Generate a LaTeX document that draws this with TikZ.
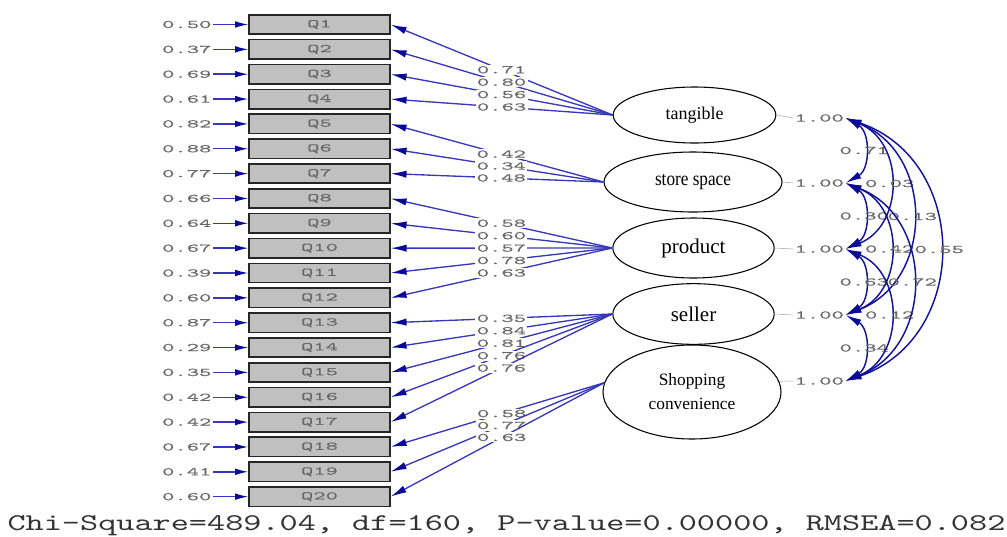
\documentclass[tikz,border=0pt]{standalone}
\usepackage{fontspec}
\setmainfont{Liberation Serif}
\newfontfamily\lisfont{lmmono10-regular.otf}[FakeStretch=2.0,FakeBold=0.4]
\newfontfamily\fitfont{lmmono10-regular.otf}[FakeStretch=1.44]
\newfontfamily\narrowserif{Liberation Serif}[FakeStretch=0.86]
\usetikzlibrary{shapes,arrows.meta}
\definecolor{pathblue}{RGB}{55,55,185}
\definecolor{tipblue}{RGB}{10,10,150}
\definecolor{numgray}{RGB}{105,105,105}
\definecolor{boxgray}{RGB}{192,192,192}
\newcommand\lisnum{\lisfont\fontsize{8.8}{10}\selectfont}

\begin{document}
\begin{tikzpicture}[x=0.75pt,y=-0.75pt]
    \tikzstyle{qbox}=[rectangle, draw=black!85, line width=1.2pt, fill=boxgray, minimum width=105.4pt, minimum height=14.5pt, inner sep=0pt, font=\lisnum, text=numgray]
    \tikzstyle{num}=[inner sep=1pt, font=\lisnum, text=numgray]
    \tikzstyle{factor}=[ellipse, draw, line width=0.8pt, inner sep=0pt, align=center]
    \tikzstyle{err}=[pathblue, line width=1.1pt, -{Latex[length=10pt,width=5pt,color=tipblue]}]
    \tikzstyle{load}=[pathblue, line width=1pt, -{Latex[length=12pt,width=5.5pt,color=tipblue]}]
    \tikzstyle{corr}=[tipblue!80!pathblue, line width=1.1pt, {Latex[length=12pt,width=5.5pt,color=tipblue]}-{Latex[length=12pt,width=5.5pt,color=tipblue]}]
    \useasboundingbox (0,0) rectangle (1007,536);

    \foreach \i/\e in {1/0.50,2/0.37,3/0.69,4/0.61,5/0.82,6/0.88,7/0.77,8/0.66,9/0.64,10/0.67,
                       11/0.39,12/0.60,13/0.87,14/0.29,15/0.35,16/0.42,17/0.42,18/0.67,19/0.41,20/0.60} {
        \node[qbox] (q\i) at (319.5,{24.5+(\i-1)*24.85}) {Q\i};
        \node[num, anchor=east] (e\i) at (213,{24.5+(\i-1)*24.85}) {\e};
        \draw[err] (e\i.east) -- (q\i.west);
    }

    \node[factor, minimum width=122pt, minimum height=42pt, font=\fontsize{13.5}{15}\selectfont] (tang) at (694.5,115) {tangible};
    \node[factor, minimum width=133.5pt, minimum height=45pt, font=\narrowserif\fontsize{15}{16}\selectfont] (store) at (693,182) {store space};
    \node[factor, minimum width=121pt, minimum height=45pt, font=\fontsize{15.75}{17}\selectfont] (prod) at (693.5,248) {product};
    \node[factor, minimum width=121pt, minimum height=45.5pt, font=\fontsize{15.75}{17}\selectfont] (sell) at (693.5,314) {seller};
    \node[factor, minimum width=133.5pt, minimum height=70.5pt, font=\fontsize{13}{18}\selectfont] (shop) at (692,392) {Shopping\\convenience};

    \foreach \q/\v in {1/0.71,2/0.80,3/0.56,4/0.63}
        \draw[load] (tang.west) -- node[num, fill=white, pos=.5] {\v} (q\q.east);
    \foreach \q/\v in {5/0.42,6/0.34,7/0.48}
        \draw[load] (store.west) -- node[num, fill=white, pos=.48] {\v} (q\q.east);
    \foreach \q/\v in {8/0.58,9/0.60,10/0.57,11/0.78,12/0.63}
        \draw[load] (prod.west) -- node[num, fill=white, pos=.5] {\v} (q\q.east);
    \foreach \q/\v in {13/0.35,14/0.84,15/0.81,16/0.76,17/0.76}
        \draw[load] (sell.west) -- node[num, fill=white, pos=.5] {\v} (q\q.east);
    \foreach \q/\v in {18/0.58,19/0.77,20/0.63}
        \draw[load] (shop.174) -- node[num, fill=white, pos=.48] {\v} (q\q.east);

    \node[num, anchor=west] (v1) at (793,118) {1.00};
    \node[num, anchor=west] (v2) at (793,183) {1.00};
    \node[num, anchor=west] (v3) at (793,249) {1.00};
    \node[num, anchor=west] (v4) at (793,315) {1.00};
    \node[num, anchor=west] (v5) at (793,381) {1.00};
    \draw[numgray!60] (tang.east) -- (v1.west);
    \draw[numgray!60] (store.east) -- (v2.west);
    \draw[numgray!60] (prod.east) -- (v3.west);
    \draw[numgray!60] (sell.east) -- (v4.west);
    \draw[numgray!60] (shop.7) -- (v5.west);

    \foreach \a/\b/\dx/\dy/\r in {1/2/25/14/0.71,2/3/25/14/0.30,3/4/25/14/0.63,4/5/25/14/0.34,
                                  1/3/59/24/0.03,2/4/59/24/0.42,3/5/59/24/0.12,
                                  1/4/89/35/0.13,2/5/89/35/0.72,1/5/125/43/0.55}
        \draw[corr] (v\a.east) .. controls +(\dx,\dy) and +(\dx,-\dy) .. (v\b.east) node[num, pos=.5] {\r};

    \node[font=\fitfont\fontsize{18}{20}\selectfont, text=black!80] (fit) at (506.5,526) {Chi-Square=489.04, df=160, P-value=0.00000, RMSEA=0.082};
\end{tikzpicture}
\end{document}
